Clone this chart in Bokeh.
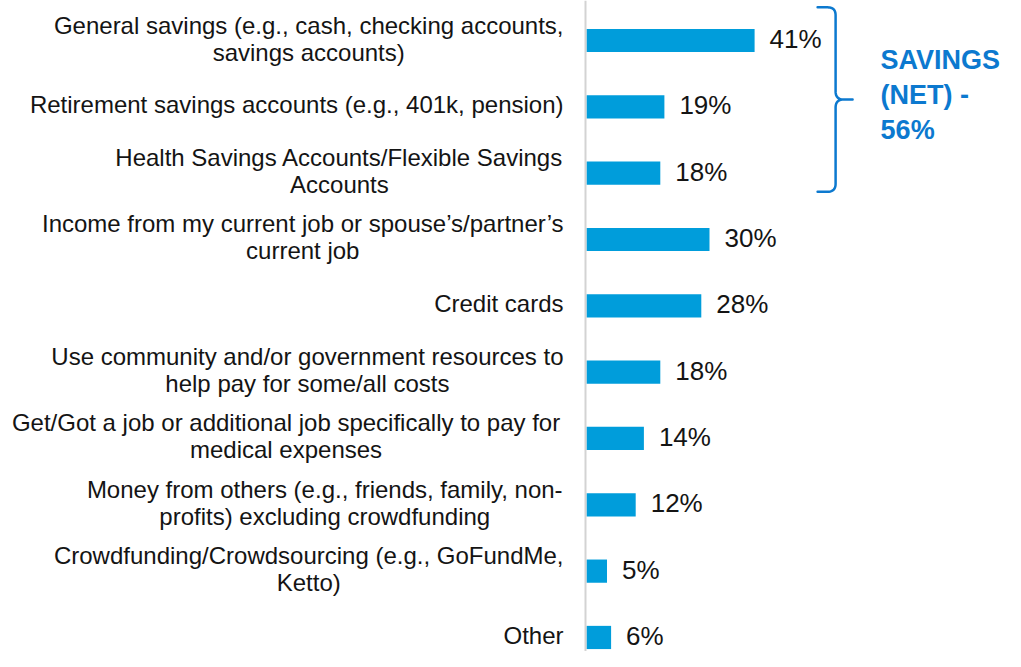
import numpy as np
from bokeh.plotting import figure
from bokeh.models import Range1d, Span, ColumnDataSource
from bokeh.core.properties import value
from bokeh.embed import file_html
from bokeh.resources import INLINE

# ---------------- data ----------------
categories = [
    "General savings (e.g., cash, checking accounts,\nsavings accounts)",
    "Retirement savings accounts (e.g., 401k, pension)",
    "Health Savings Accounts/Flexible Savings\nAccounts",
    "Income from my current job or spouse\u2019s/partner\u2019s\ncurrent job",
    "Credit cards",
    "Use community and/or government resources to\nhelp pay for some/all costs",
    "Get/Got a job or additional job specifically to pay for \nmedical expenses",
    "Money from others (e.g., friends, family, non-\nprofits) excluding crowdfunding",
    "Crowdfunding/Crowdsourcing (e.g., GoFundMe,\nKetto)",
    "Other",
]
values = [41, 19, 18, 30, 28, 18, 14, 12, 5, 6]
value_labels = [f"{v}%" for v in values]
net_group = [0, 1, 2]
net_label = ["SAVINGS", "(NET) -", "56%"]

# ---------------- styling / layout ----------------
W, H = 1005, 651
AXIS_PX = 586      # pixel position of the zero line
KX = 4.1           # pixels per percentage point
TOP_PX = 40        # pixel position of first bar centre
KY = 66.33         # pixels per category
BAR_COLOR = "#009ddb"
ACCENT = "#0c79cf"
TEXT_COLOR = "#141414"
FONT = "Liberation Sans"
CAT_SIZE = 24
VAL_SIZE = 26

# Arial / Liberation Sans advance widths (per 1000 em)
AW = {' ': 278, '(': 333, ')': 333, ',': 278, '-': 333, '.': 278, '/': 278, '%': 889,
      '\u2019': 222, "'": 191,
      'A': 667, 'B': 667, 'C': 722, 'D': 722, 'E': 667, 'F': 611, 'G': 778, 'H': 722,
      'I': 278, 'J': 500, 'K': 667, 'L': 556, 'M': 833, 'N': 722, 'O': 778, 'P': 667,
      'Q': 778, 'R': 722, 'S': 667, 'T': 611, 'U': 722, 'V': 667, 'W': 944, 'X': 667,
      'Y': 667, 'Z': 611,
      'a': 556, 'b': 556, 'c': 500, 'd': 556, 'e': 556, 'f': 278, 'g': 556, 'h': 556,
      'i': 222, 'j': 222, 'k': 500, 'l': 222, 'm': 833, 'n': 556, 'o': 556, 'p': 556,
      'q': 556, 'r': 333, 's': 500, 't': 278, 'u': 556, 'v': 500, 'w': 722, 'x': 500,
      'y': 500, 'z': 500}


def text_width(s, size):
    return sum(AW.get(ch, 556) for ch in s) / 1000.0 * size


p = figure(width=W, height=H, output_backend="svg", toolbar_location=None,
           x_range=Range1d(-AXIS_PX / KX, (W - AXIS_PX) / KX),
           y_range=Range1d((H - TOP_PX) / KY, -TOP_PX / KY),
           x_axis_location=None, y_axis_location=None,
           min_border=0, outline_line_color=None,
           background_fill_color="white", border_fill_color="white")
p.xgrid.visible = False
p.ygrid.visible = False

idx = list(range(len(categories)))

# zero line
p.add_layout(Span(location=-1.0 / KX, dimension="height",
                  line_color="#d3d3d3", line_width=2))

# bars
p.hbar(y=idx, left=0, right=values, height=0.35,
       fill_color=BAR_COLOR, line_color=None)

# category labels (lines centred, block right-aligned to the axis)
GAP = 23
LINE_PX = 27
BASE_SHIFT = -2
lx, ly, lt, lxo, lyo = [], [], [], [], []
for i, cat in enumerate(categories):
    lines = cat.split("\n")
    block_w = max(text_width(l, CAT_SIZE) for l in lines)
    n = len(lines)
    for j, line in enumerate(lines):
        lx.append(0)
        ly.append(i)
        lt.append(line.strip())
        lxo.append(-(GAP + block_w / 2.0))
        lyo.append((j - (n - 1) / 2.0) * LINE_PX + BASE_SHIFT)
cat_src = ColumnDataSource(dict(x=lx, y=ly, text=lt, xo=lxo, yo=lyo))
p.text(x="x", y="y", text="text", x_offset="xo", y_offset="yo", source=cat_src,
       text_align="center", text_baseline="alphabetic",
       text_font=value(FONT), text_font_size=f"{CAT_SIZE}px", text_color=TEXT_COLOR)

# value labels
p.text(x=values, y=idx, text=value_labels, x_offset=15, y_offset=-1.5,
       text_align="left", text_baseline="alphabetic",
       text_font=value(FONT), text_font_size=f"{VAL_SIZE}px", text_color=TEXT_COLOR)

# bracket around the savings group
bx = max(values[g] for g in net_group) + 81 / KX
ytop = min(net_group) - 0.5
ybot = max(net_group) + 0.28
ymid = (ytop + ybot) / 2.0
R = 8.0
END = 18.0
TIP = 17.0


def quad(p0, c, p1, n=12):
    t = np.linspace(0, 1, n)
    xs = (1 - t) ** 2 * p0[0] + 2 * (1 - t) * t * c[0] + t ** 2 * p1[0]
    ys = (1 - t) ** 2 * p0[1] + 2 * (1 - t) * t * c[1] + t ** 2 * p1[1]
    return list(xs), list(ys)


dx = lambda px: px / KX
dy = lambda px: px / KY
bxs, bys = [], []


def add(seg):
    bxs.extend(seg[0]); bys.extend(seg[1])


add(([bx - dx(END)], [ytop]))
add(quad((bx - dx(R), ytop), (bx, ytop), (bx, ytop + dy(R))))
add(quad((bx, ymid - dy(R)), (bx, ymid), (bx + dx(R), ymid)))
add(([bx + dx(TIP)], [ymid]))
add(([bx + dx(R)], [ymid]))
add(quad((bx + dx(R), ymid), (bx, ymid), (bx, ymid + dy(R))))
add(quad((bx, ybot - dy(R)), (bx, ybot), (bx - dx(R), ybot)))
add(([bx - dx(END)], [ybot]))
p.line(bxs, bys, line_color=ACCENT, line_width=2.5, line_join="round", line_cap="round")

# net label
p.text(x=[bx + dx(45)] * 3, y=[ymid] * 3, text=net_label, y_offset=[-40, -5, 30],
       text_align="left", text_baseline="alphabetic",
       text_font=value(FONT), text_font_style="bold", text_font_size="27px",
       text_color=ACCENT)

open("out.html", "w").write(file_html(p, INLINE))
